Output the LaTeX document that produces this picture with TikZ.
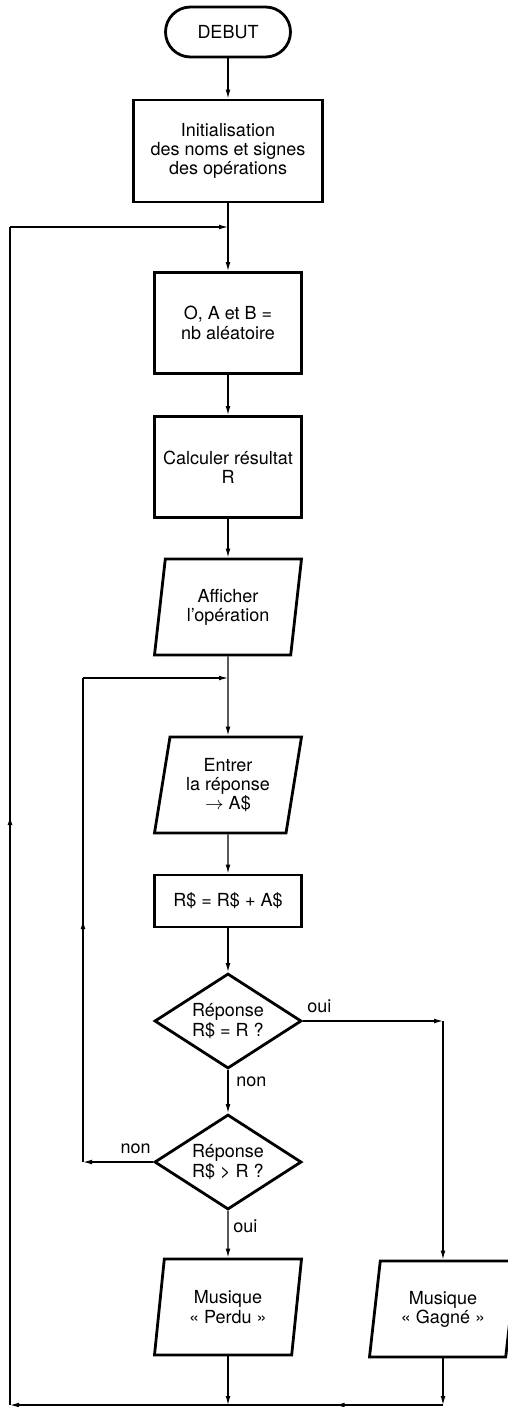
\documentclass[tikz,border=0pt]{standalone}
\usepackage{fontspec}
\setmainfont{TeX Gyre Heros}
\usetikzlibrary{arrows.meta,
                decorations.markings,
                shapes.geometric}

\begin{document}
\begin{tikzpicture}[x=0.5pt, y=-0.5pt,
  font=\fontsize{9}{9.6}\selectfont,
  >={Latex[length=4.5pt,width=2.4pt]},
  fleche/.style={->, line width=0.6pt},
  milieu/.style={line width=0.6pt, postaction={decorate},
    decoration={markings, mark=at position 0.5 with {\arrow{Latex[length=4.5pt,width=2.4pt]}}}},
  debut/.style={draw, line width=1.4pt, rounded corners=12.5pt,
    minimum width=62.5pt, minimum height=25pt},
  boite/.style={draw, line width=1.4pt, align=center, inner sep=1pt,
    minimum width=73.5pt, minimum height=50.5pt},
  entsort/.style={draw, line width=1.4pt, align=center, inner sep=1pt,
    trapezium, trapezium left angle=75, trapezium right angle=105,
    trapezium stretches body, minimum width=73.5pt, minimum height=48pt},
  test/.style={draw, line width=1.4pt, align=center, inner sep=1pt,
    diamond, aspect=1.55, minimum width=73.5pt, minimum height=47.5pt},
  etiq/.style={inner sep=0pt}]
\useasboundingbox (0,0) rectangle (508,1407);

\node[debut] (debut) at (228,32) {DEBUT};
\node[boite, minimum width=94.5pt, minimum height=51pt] (init) at (228,151)
  {Initialisation\\des noms et signes\\des opérations};
\node[boite] (tirage) at (228,323) {O, A et B =\\nb aléatoire};
\node[boite] (calcul) at (228,467) {Calculer résultat\\R};
\node[entsort] (affiche) at (228,607) {Afficher\\l’opération};
\node[entsort] (entree) at (228,785) {Entrer\\la réponse\\$\rightarrow$ A\$};
\node[boite, minimum height=26pt] (concat) at (228,901) {R\$ = R\$ + A\$};
\node[test] (test1) at (228,1021) {Réponse\\R\$ = R ?};
\node[test] (test2) at (228,1162) {Réponse\\R\$ > R ?};
\node[entsort] (perdu) at (228,1307) {Musique\\« Perdu »};
\node[entsort] (gagne) at (443,1309) {Musique\\« Gagné »};

\coordinate (retour) at (228,227);
\coordinate (reprise) at (228,678);
\coordinate (hg) at (10,227);
\coordinate (bg) at (10,1405);
\coordinate (bp) at (228,1405);
\coordinate (bd) at (443,1405);
\coordinate (ouid) at (443,1021);
\coordinate (nonb) at (83,1162);
\coordinate (nonh) at (83,678);

\draw[fleche] (debut) -- (init);
\draw[fleche] (init) -- (tirage);
\draw[fleche] (tirage) -- (calcul);
\draw[fleche] (calcul) -- (affiche);
\draw[fleche] (affiche) -- (entree);
\draw[fleche] (entree) -- (concat);
\draw[fleche] (concat) -- (test1);
\draw[fleche] (test1) -- (test2);
\draw[fleche] (test2) -- (perdu);
\draw[fleche] (test1.east) -- (ouid);
\draw[fleche] (ouid) -- (gagne);
\draw[fleche] (test2.west) -- (nonb);
\draw[milieu] (nonb) -- (nonh);
\draw[fleche] (nonh) -- (reprise);
\draw[fleche] (perdu) -- (bp);
\draw[fleche] (gagne) -- (bd);
\draw[milieu] (bd) -- (bp);
\draw[fleche] (bp) -- (bg);
\draw[milieu] (bg) -- (hg);
\draw[fleche] (hg) -- (retour);

\node[etiq, anchor=south west] (oui1) at ([xshift=2pt,yshift=4pt]test1.east) {oui};
\node[etiq, anchor=north west] (non1) at ([xshift=4pt,yshift=-3pt]test1.south) {non};
\node[etiq, anchor=south east] (non2) at ([xshift=-1pt,yshift=4pt]test2.west) {non};
\node[etiq, anchor=north west] (oui2) at ([xshift=2.5pt,yshift=-4pt]test2.south) {oui};
\end{tikzpicture}
\end{document}
